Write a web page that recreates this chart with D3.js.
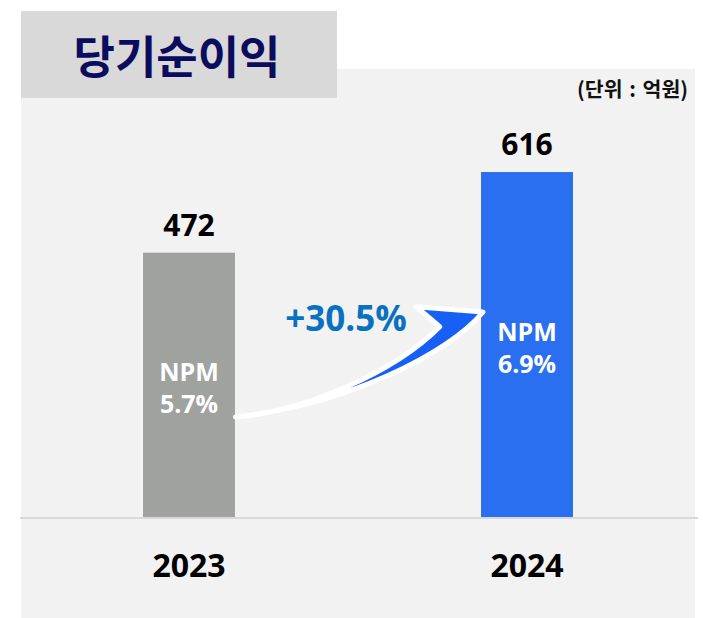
<!DOCTYPE html>
<html><head><meta charset="utf-8">
<script src="https://cdn.jsdelivr.net/npm/d3@7"></script>
<style>
html,body{margin:0;padding:0;background:#fff;}
svg{display:block;}
</style></head>
<body>
<script>
const years = ["2023", "2024"];
const netIncome = [472, 616];
const npmValues = ["5.7%", "6.9%"];
const npmLabel = "NPM";
const growthLabel = "+30.5%";
const titleText = "당기순이익";
const unitText = "(단위 : 억원)";
const barColors = ["#a0a2a0", "#2a6ff0"];

const W = 703, H = 618;
const svg = d3.select("body").append("svg").attr("width", W).attr("height", H);
const latin = "'Open Sans','Noto Sans','Noto Sans CJK KR',sans-serif";
const kor = "'Noto Sans CJK KR','Noto Sans',sans-serif";

// panel
svg.append("rect").attr("x", 21).attr("y", 69).attr("width", 674).attr("height", 549).attr("fill", "#f2f2f2");
// title box
svg.append("rect").attr("x", 21).attr("y", 11).attr("width", 316).attr("height", 87).attr("fill", "#d9d9d9");
svg.append("text").attr("x", 177).attr("y", 54).attr("text-anchor", "middle").attr("dominant-baseline", "central")
  .attr("font-family", kor).attr("font-weight", 700).attr("font-size", 45).attr("fill", "#0c0c5e").text(titleText);
svg.append("text").attr("x", 688).attr("y", 97).attr("text-anchor", "end")
  .attr("font-family", kor).attr("font-weight", 700).attr("font-size", 20.5)
  .attr("word-spacing", 2).attr("fill", "#111").text(unitText);

const x = d3.scaleBand().domain(years).range([20, 696]).paddingInner(0.728).paddingOuter(0.364);
const y = d3.scaleLinear().domain([0, 700]).range([517, 125]);
const data = years.map((yr, i) => ({year: yr, v: netIncome[i], npm: npmValues[i], c: barColors[i]}));

// baseline
svg.append("line").attr("x1", 20).attr("x2", 698).attr("y1", y(0) + 1).attr("y2", y(0) + 1)
  .attr("stroke", "#d9d9d9").attr("stroke-width", 2);

svg.selectAll("rect.bar").data(data).join("rect").attr("class", "bar")
  .attr("x", d => x(d.year)).attr("y", d => y(d.v))
  .attr("width", x.bandwidth()).attr("height", d => y(0) - y(d.v)).attr("fill", d => d.c);

svg.selectAll("text.val").data(data).join("text").attr("class", "val")
  .attr("x", d => x(d.year) + x.bandwidth() / 2).attr("y", d => y(d.v) - 17)
  .attr("text-anchor", "middle").attr("font-family", latin).attr("font-weight", 700)
  .attr("font-size", 30).attr("fill", "#000").text(d => d.v);

const npmG = svg.selectAll("g.npm").data(data).join("g").attr("class", "npm");
npmG.append("text")
  .attr("x", d => x(d.year) + x.bandwidth() / 2).attr("y", d => (y(d.v) + y(0)) / 2 - 4)
  .attr("text-anchor", "middle").attr("font-family", latin).attr("font-weight", 700)
  .attr("font-size", 25).attr("fill", "#fff").text(npmLabel);
npmG.append("text")
  .attr("x", d => x(d.year) + x.bandwidth() / 2).attr("y", d => (y(d.v) + y(0)) / 2 + 28)
  .attr("text-anchor", "middle").attr("font-family", latin).attr("font-weight", 700)
  .attr("font-size", 25).attr("fill", "#fff").text(d => d.npm);

svg.selectAll("text.year").data(data).join("text").attr("class", "year")
  .attr("x", d => x(d.year) + x.bandwidth() / 2).attr("y", 577)
  .attr("text-anchor", "middle").attr("font-family", latin).attr("font-weight", 700)
  .attr("font-size", 32).attr("fill", "#000").text(d => d.year);

// growth arrow from 2023 bar to 2024 bar
const x0 = x(years[0]) + x.bandwidth() + 0.5;
const x1 = x(years[1]) + 2;
const yT = y(0) - 100, yP = y(0) - 205;
const dx = x1 - x0, dy = yT - yP;
const P = (fx, fy) => [x0 + fx * dx, yT - fy * dy];
const p = d3.path();
let a = P(0, 0); p.moveTo(a[0], a[1]);
let c1 = P(0.27, 0.05), c2 = P(0.64, 0.42), e = P(0.825, 0.86);
p.bezierCurveTo(c1[0], c1[1], c2[0], c2[1], e[0], e[1]);
e = P(0.73, 1.05); p.lineTo(e[0], e[1]);
e = P(1, 1); p.lineTo(e[0], e[1]);
c1 = P(0.86, 0.6), c2 = P(0.45, 0.12); e = P(0, 0);
p.bezierCurveTo(c1[0], c1[1], c2[0], c2[1], e[0], e[1]);
p.closePath();
svg.append("path").attr("d", p.toString()).attr("fill", "#1660f5")
  .attr("stroke", "#fff").attr("stroke-width", 5).attr("stroke-linejoin", "round");

svg.append("text").attr("x", 346).attr("y", 331).attr("text-anchor", "middle")
  .attr("font-family", latin).attr("font-weight", 700).attr("font-size", 35)
  .attr("fill", "#0a70c0").text(growthLabel);
</script>
</body></html>
